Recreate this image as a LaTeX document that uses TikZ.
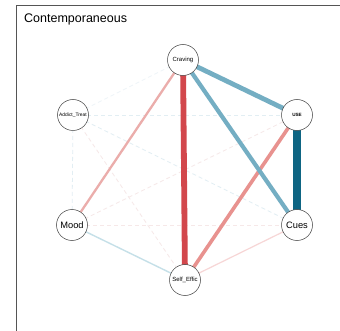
\documentclass[tikz,border=0pt]{standalone}
\usepackage{fontspec}
\setmainfont{Liberation Sans}
\definecolor{frame}{HTML}{555555}
\definecolor{redS}{HTML}{D2474C}
\definecolor{redM}{HTML}{E8928F}
\definecolor{redL}{HTML}{EBADAB}
\definecolor{redXL}{HTML}{F7D6D6}
\definecolor{redD}{HTML}{F6E8E8}
\definecolor{bluD}{HTML}{0E6583}
\definecolor{bluM}{HTML}{74AEC3}
\definecolor{bluL}{HTML}{C5E0E8}
\definecolor{bluDash}{HTML}{E2EEF3}
\tikzset{
  vnode/.style={circle, draw=black!75, line width=0.5pt, fill=white, minimum size=31pt, inner sep=0pt, font=#1},
  vnode/.default={\fontsize{6}{7}\selectfont},
  faint/.style={dash pattern=on 4pt off 3pt, line width=0.8pt},
}
\begin{document}
\begin{tikzpicture}[x=1pt,y=-1pt]
\useasboundingbox (0,0) rectangle (340,331);
\fill[white] (0,0) rectangle (340,331);
\draw[frame, line width=0.8pt] (16,331) -- (16,5) -- (340,5);
\node[anchor=base west, font=\fontsize{12.5}{14}\selectfont, inner sep=0pt] (title) at (24,23) {Contemporaneous};

% node positions (coordinates only, nodes drawn later on top)
\coordinate (pCr) at (183,60);
\coordinate (pAT) at (73,115);
\coordinate (pUS) at (297,115);
\coordinate (pMo) at (72,225);
\coordinate (pCu) at (297,225);
\coordinate (pSE) at (185,280);

% faint dashed edges
\draw[faint, bluDash] (pAT) -- (pUS);
\draw[faint, bluDash] (pAT) -- (pCu);
\draw[faint, bluDash] (pAT) -- (pMo);
\draw[faint, redD] (pAT) -- (pSE);
\draw[faint, bluDash!60] (pAT) -- (pCr);
\draw[faint, redD] (pMo) -- (pUS);
\draw[faint, redD] (pMo) -- (pCu);

% solid edges
\draw[redXL, line width=1.2pt] (pCu) -- (pSE);
\draw[bluL, line width=1.4pt] (pMo) -- (pSE);
\draw[redL, line width=2.3pt] (pCr) -- (pMo);
\draw[redM, line width=3.6pt] (pUS) -- (pSE);
\draw[bluM, line width=4.2pt] (pCr) -- (pCu);
\draw[bluM, line width=4.8pt] (pCr) -- (pUS);
\draw[redS, line width=5.8pt] (pCr) -- (pSE);
\draw[bluD, line width=8pt] (pUS) -- (pCu);

% nodes
\node[vnode] (Cr) at (pCr) {Craving};
\node[vnode={\fontsize{4.9}{6}\selectfont}] (AT) at (pAT) {Addict\_Treat};
\node[vnode={\fontsize{4.6}{6}\selectfont\bfseries}] (US) at (pUS) {USE};
\node[vnode={\fontsize{9.3}{11}\selectfont}] (Mo) at (pMo) {Mood};
\node[vnode={\fontsize{9.3}{11}\selectfont}] (Cu) at (pCu) {Cues};
\node[vnode] (SE) at (pSE) {Self\_Effic};
\end{tikzpicture}
\end{document}
